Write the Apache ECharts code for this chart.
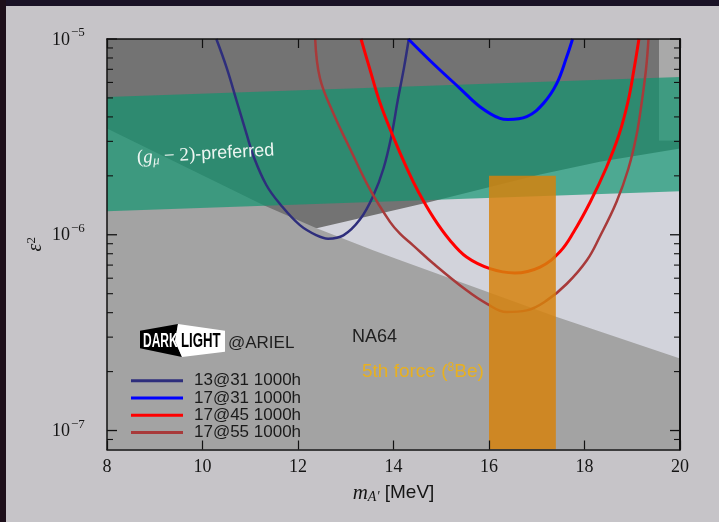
<!DOCTYPE html>
<html>
<head>
<meta charset="utf-8">
<script src="https://cdn.jsdelivr.net/npm/echarts@6/dist/echarts.min.js"></script>
<style>
html, body { margin: 0; padding: 0; background: #1c1426; }
#chart { width: 719px; height: 522px; }
</style>
</head>
<body>
<div id="chart"></div>
<script>
// Dark photon sensitivity: kinetic mixing eps^2 versus A' mass

const massRange = [8, 20];
const eps2Range = [8e-8, 1e-5];
const massTicks = [8, 10, 12, 14, 16, 18, 20];
const eps2Decades = [1e-7, 1e-6, 1e-5];
const eps2DecadeExp = ['\u22127', '\u22126', '\u22125'];
const eps2Minor = [9e-8, 2e-7, 3e-7, 4e-7, 5e-7, 6e-7, 7e-7, 8e-7, 9e-7,
                   2e-6, 3e-6, 4e-6, 5e-6, 6e-6, 7e-6, 8e-6, 9e-6];

// Projected reach curves (beam energy @ angle, running time)
const curveNames = ['13@31 1000h', '17@31 1000h', '17@45 1000h', '17@55 1000h'];
const curveColors = ['#2e2e7c', '#0000ff', '#ff0000', '#a83a3a'];
const curveWidths = [2.5, 3, 3, 2.5];

const mass1331 = [10.29, 10.51, 10.72, 10.93, 11.06, 11.34, 11.64, 12.04, 12.39, 12.63,
                  12.95, 13.30, 13.58, 13.79, 13.96, 14.09, 14.22, 14.32];
const eps1331 = [1.0e-5, 7.08e-6, 4.78e-6, 3.23e-6, 2.55e-6, 1.79e-6, 1.42e-6, 1.12e-6, 9.93e-7, 9.55e-7,
                 9.93e-7, 1.20e-6, 1.59e-6, 2.18e-6, 3.23e-6, 4.88e-6, 7.14e-6, 1.0e-5];

const mass1731 = [14.31, 14.84, 15.39, 15.81, 16.23, 16.40, 16.79, 17.14, 17.42, 17.63, 17.75];
const eps1731 = [1.0e-5, 7.45e-6, 5.60e-6, 4.51e-6, 3.93e-6, 3.88e-6, 4.01e-6, 4.69e-6, 5.93e-6, 8.13e-6, 1.0e-5];

const mass1745 = [13.32, 13.50, 13.71, 13.98, 14.30, 14.52, 14.84, 15.18, 15.53, 16.02,
                  16.54, 17.07, 17.49, 17.77, 18.12, 18.45, 18.72, 18.91, 19.04, 19.14];
const eps1745 = [1.0e-5, 7.08e-6, 4.78e-6, 3.23e-6, 2.13e-6, 1.66e-6, 1.22e-6, 9.38e-7, 7.69e-7, 6.71e-7,
                 6.38e-7, 6.84e-7, 8.22e-7, 1.03e-6, 1.47e-6, 2.18e-6, 3.23e-6, 4.78e-6, 7.08e-6, 1.0e-5];

const mass1755 = [12.36, 12.46, 12.74, 13.09, 13.51, 13.93, 14.14, 14.41, 14.84, 15.53, 15.95, 16.37,
                  16.79, 17.21, 17.63, 18.05, 18.32, 18.67, 18.92, 19.09, 19.20, 19.29, 19.34];
const eps1755 = [1.0e-5, 6.30e-6, 4.17e-6, 2.75e-6, 1.70e-6, 1.16e-6, 1.01e-6, 8.83e-7, 7.11e-7, 5.20e-7, 4.45e-7, 4.03e-7,
                 4.11e-7, 4.62e-7, 5.62e-7, 7.41e-7, 9.77e-7, 1.47e-6, 2.18e-6, 3.23e-6, 4.78e-6, 7.08e-6, 1.0e-5];

// Previously excluded region from above (lower edge)
const upperMass = [8, 12.39, 14.76, 17.07, 18.32, 20];
const upperEdge = [5.62e-7, 1.08e-6, 1.47e-6, 2.03e-6, 2.36e-6, 2.76e-6];
const upperCutMass = 19.56;
const upperCutEps = 3.04e-6;

// NA64 excluded region (upper edge)
const na64Mass = [8, 11.27, 12.39, 13.57, 14.14, 17.42, 20];
const na64Edge = [3.49e-6, 1.42e-6, 1.08e-6, 8.34e-7, 7.41e-7, 3.80e-7, 2.33e-7];

// (g_mu - 2) preferred band
const gm2Mass = [8, 20];
const gm2Upper = [5.05e-6, 6.40e-6];
const gm2Lower = [1.32e-6, 1.67e-6];

// 8Be anomaly (fifth force) window
const be8Mass = [16, 17.4];
const be8Top = 2.0e-6;

const zip = (xs, ys) => xs.map((x, i) => [x, ys[i]]);

const upperPoly = [[massRange[0], eps2Range[1]], [upperCutMass, eps2Range[1]],
                   [upperCutMass, upperCutEps], [massRange[1], upperCutEps]]
                   .concat(zip(upperMass, upperEdge).reverse());
const cornerPoly = [[upperCutMass, eps2Range[1]], [massRange[1], eps2Range[1]],
                    [massRange[1], upperCutEps], [upperCutMass, upperCutEps]];
const na64Poly = zip(na64Mass, na64Edge)
                   .concat([[massRange[1], eps2Range[0]], [massRange[0], eps2Range[0]]]);
const gm2Poly = zip(gm2Mass, gm2Upper).concat(zip(gm2Mass, gm2Lower).reverse());
const be8Poly = [[be8Mass[0], be8Top], [be8Mass[1], be8Top],
                 [be8Mass[1], eps2Range[0]], [be8Mass[0], eps2Range[0]]];

const regions = [
  { pts: upperPoly, fill: '#737373' },
  { pts: cornerPoly, fill: '#a9a9a9' },
  { pts: na64Poly, fill: '#a3a3a3' },
  { pts: gm2Poly, fill: 'rgba(13,149,111,0.68)' }
];

function polygon(api, pts, fill) {
  return { type: 'polygon', shape: { points: pts.map(p => api.coord(p)) }, style: { fill: fill } };
}

const curves = [[mass1331, eps1331], [mass1731, eps1731], [mass1745, eps1745], [mass1755, eps1755]];

const tickItems = eps2Decades.map((v, i) => ({ value: [8, v, 1, i] }))
  .concat(eps2Minor.map(v => ({ value: [8, v, 0, -1] })));

const chart = echarts.init(document.getElementById('chart'));

const serif = '"Liberation Serif", "DejaVu Serif", serif';
const sans = '"Liberation Sans", Arial, sans-serif';
const white = '#eef6f2';
const gold = '#e8b020';

const option = {
  backgroundColor: '#c6c4c8',
  animation: false,
  grid: { left: 107, right: 39, top: 39, bottom: 72.5, show: true, backgroundColor: '#d2d3db', borderWidth: 0 },
  xAxis: [
    {
      type: 'value', min: massRange[0], max: massRange[1], interval: 2, z: 10,
      axisLine: { show: true, onZero: false, lineStyle: { color: '#111', width: 1.5 } },
      axisTick: { show: true, inside: true, length: 9, lineStyle: { color: '#111', width: 1.2 } },
      axisLabel: { fontFamily: serif, fontSize: 18, color: '#151515', margin: 9,
                   formatter: v => massTicks.indexOf(v) >= 0 ? String(v) : '' },
      splitLine: { show: false },
      name: '{m|m}{sub|A\u2032}{t| [MeV]}',
      nameLocation: 'middle', nameGap: 32,
      nameTextStyle: {
        rich: {
          m: { fontFamily: serif, fontStyle: 'italic', fontSize: 21, color: '#151515' },
          sub: { fontFamily: serif, fontStyle: 'italic', fontSize: 14, color: '#151515', padding: [9, 0, 0, 0] },
          t: { fontFamily: sans, fontSize: 19, color: '#151515' }
        }
      }
    },
    {
      type: 'value', position: 'top', min: massRange[0], max: massRange[1], interval: 2, z: 10,
      axisLine: { show: true, onZero: false, lineStyle: { color: '#111', width: 1.5 } },
      axisTick: { show: true, inside: true, length: 9, lineStyle: { color: '#111', width: 1.2 } },
      axisLabel: { show: false }, splitLine: { show: false }
    }
  ],
  yAxis: [
    {
      type: 'log', logBase: 10, min: eps2Range[0], max: eps2Range[1], z: 10,
      axisLine: { show: true, onZero: false, lineStyle: { color: '#111', width: 1.5 } },
      axisTick: { show: false }, axisLabel: { show: false }, splitLine: { show: false },
      name: '{e|\u03b5}{s|2}', nameLocation: 'middle', nameGap: 60, nameRotate: 90,
      nameTextStyle: {
        rich: {
          e: { fontFamily: serif, fontStyle: 'italic', fontSize: 20, color: '#151515' },
          s: { fontFamily: serif, fontSize: 13, color: '#151515', padding: [0, 0, 9, 0] }
        }
      }
    },
    {
      type: 'log', logBase: 10, position: 'right', min: eps2Range[0], max: eps2Range[1], z: 10,
      axisLine: { show: true, onZero: false, lineStyle: { color: '#111', width: 2 } },
      axisTick: { show: false }, axisLabel: { show: false }, splitLine: { show: false }
    }
  ],
  legend: {
    data: curveNames, orient: 'vertical', left: 126, top: 367,
    icon: 'rect', itemWidth: 52, itemHeight: 3, itemGap: 0,
    textStyle: { fontFamily: sans, fontSize: 17, color: '#1a1a1a', lineHeight: 17.3, padding: [0, 0, 0, 6] }
  },
  series: [
    {
      type: 'custom', name: 'regions', z: 1, clip: true, silent: true,
      data: regions.map((r, i) => ({ value: [8, 1e-6, i] })),
      renderItem: (params, api) => {
        const r = regions[params.dataIndex];
        return polygon(api, r.pts, r.fill);
      }
    },
    ...curveNames.map((name, i) => ({
      type: 'line', name: name, z: 3, clip: true,
      data: zip(curves[i][0], curves[i][1]),
      showSymbol: false, symbol: 'none', smooth: 0.4,
      lineStyle: { color: curveColors[i], width: curveWidths[i] },
      itemStyle: { color: curveColors[i] }
    })),
    {
      type: 'custom', name: 'be8', z: 5, clip: true, silent: true,
      data: [{ value: [16, 1e-6] }],
      renderItem: (params, api) => polygon(api, be8Poly, 'rgba(214,130,12,0.84)')
    },
    {
      type: 'custom', name: 'yticks', z: 12, clip: false, silent: true,
      data: tickItems,
      renderItem: (params, api) => {
        const cs = params.coordSys;
        const y = api.coord([8, api.value(1)])[1];
        const major = api.value(2) === 1;
        const len = major ? 10 : 6;
        const x0 = cs.x, x1 = cs.x + cs.width;
        const lineStyle = { stroke: '#111', lineWidth: major ? 1.3 : 1.1 };
        const children = [
          { type: 'line', shape: { x1: x0, y1: y, x2: x0 + len, y2: y }, style: lineStyle },
          { type: 'line', shape: { x1: x1 - len, y1: y, x2: x1, y2: y }, style: lineStyle }
        ];
        if (major) {
          const k = api.value(3);
          children.push({ type: 'text', x: x0 - 37, y: y + 1,
            style: { text: '10', fontFamily: serif, fontSize: 18, fill: '#151515', align: 'right', verticalAlign: 'middle' } });
          children.push({ type: 'text', x: x0 - 36, y: y - 6,
            style: { text: eps2DecadeExp[k], fontFamily: serif, fontSize: 13, fill: '#151515', align: 'left', verticalAlign: 'middle' } });
        }
        return { type: 'group', children: children };
      }
    }
  ],
  graphic: [
    { type: 'rect', z: 100, shape: { x: 0, y: 0, width: 719, height: 6 }, style: { fill: '#1a1226' } },
    { type: 'rect', z: 100, shape: { x: 0, y: 0, width: 6, height: 522 }, style: { fill: '#1d0f1a' } },
    // DarkLight logo
    { type: 'polygon', z: 100, shape: { points: [[140, 330.7], [178, 324], [175, 341], [182, 357], [140, 348.3]] }, style: { fill: '#000' } },
    { type: 'polygon', z: 100, shape: { points: [[178, 324], [225, 330.7], [225, 351.7], [182, 357], [175, 341]] }, style: { fill: '#fff' } },
    { type: 'text', z: 101, x: 143, y: 341, scaleX: 0.6,
      style: { text: 'DARK', fontFamily: sans, fontWeight: 'bold', fontSize: 20, fill: '#fff', align: 'left', verticalAlign: 'middle' } },
    { type: 'text', z: 101, x: 181, y: 341, scaleX: 0.66,
      style: { text: 'LIGHT', fontFamily: sans, fontWeight: 'bold', fontSize: 20, fill: '#000', align: 'left', verticalAlign: 'middle' } },
    { type: 'text', z: 101, x: 228, y: 343,
      style: { text: '@ARIEL', fontFamily: sans, fontSize: 17, fill: '#1e1e1e', align: 'left', verticalAlign: 'middle' } },
    { type: 'text', z: 100, x: 352, y: 337,
      style: { text: 'NA64', fontFamily: sans, fontSize: 18, fill: '#1e1e1e', align: 'left', verticalAlign: 'middle' } },
    { type: 'text', z: 100, x: 362, y: 372,
      style: {
        text: '{t|5th force (}{s|8}{t|Be)}', align: 'left', verticalAlign: 'middle',
        rich: {
          t: { fontFamily: sans, fontSize: 19, fill: gold },
          s: { fontFamily: sans, fontSize: 12, fill: gold, padding: [0, 0, 8, 0] }
        }
      } },
    { type: 'text', z: 100, x: 137, y: 158, rotation: 0.055,
      style: {
        text: '{p|(}{g|g}{sub|\u03bc}{p| \u2212 2)}{t|-preferred}', align: 'left', verticalAlign: 'middle',
        rich: {
          p: { fontFamily: serif, fontSize: 19, fill: white },
          g: { fontFamily: serif, fontStyle: 'italic', fontSize: 19, fill: white },
          sub: { fontFamily: serif, fontStyle: 'italic', fontSize: 13, fill: white, padding: [8, 0, 0, 0] },
          t: { fontFamily: sans, fontSize: 18, fill: white }
        }
      } }
  ]
};

chart.setOption(option);
</script>
</body>
</html>
